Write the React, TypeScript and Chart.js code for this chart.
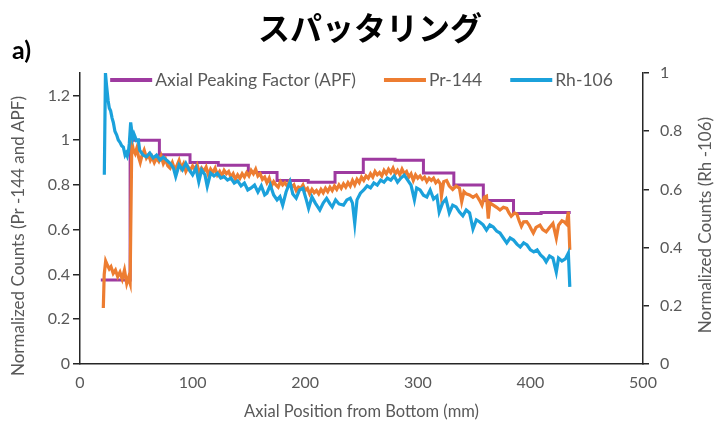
import React, { useEffect, useRef } from "react";
import { Chart, registerables } from "chart.js";

Chart.register(...registerables);

// ---------- text ----------
const TITLE = "スパッタリング";
const PANEL = "a)";
const X_TITLE = "Axial Position from Bottom (mm)";
const Y_LEFT_TITLE = "Normalized Counts (Pr -144 and APF)";
const Y_RIGHT_TITLE = "Normalized Counts (Rh -106)";
const SERIES_NAMES = ["Axial Peaking Factor (APF)", "Pr-144", "Rh-106"];

// ---------- data ----------
// Axial Peaking Factor (step: value holds from x until next x)
const apfX = [18.5, 44.5, 70.5, 97.7, 122.8, 149.5, 175, 202.7, 226.5, 251.6, 279.8, 305, 332, 358.2, 385, 409.5, 435.8];
const apfY = [0.375, 1.0, 0.935, 0.9, 0.888, 0.855, 0.82, 0.812, 0.855, 0.915, 0.91, 0.853, 0.8, 0.73, 0.672, 0.677, 0.677];

// Pr-144 (left axis)
const prX = [
  20.7, 21.5, 22.8, 24.5, 26, 27.5, 29.5, 31.5, 33.5, 35.5,
  37.5, 39.5, 41.5, 43, 44.5, 46, 47.5, 49, 50.5, 52,
  53.5, 55, 57, 59, 61, 62.5, 64, 66, 68, 70,
  72, 74, 76, 78, 80, 82, 84, 86, 88, 90,
  92, 94, 96, 98, 100, 102, 104, 106, 108, 110,
  112, 114, 116, 118, 120, 122, 124, 126, 128, 130,
  132, 134, 136, 138, 140, 142, 144, 146, 148, 150,
  152, 154, 156, 158, 160, 162, 164, 166, 168, 170,
  172, 174, 176, 178, 180, 182, 184, 186, 188, 190,
  192, 194, 196, 198, 200, 202, 204, 206, 208, 210,
  212, 214, 216, 218, 220, 222, 224, 226, 228, 230,
  232, 234, 236, 238, 240, 242, 244, 246, 248, 250,
  252, 254, 256, 258, 260, 262, 264, 266, 268, 270,
  272, 274, 276, 278, 280, 282, 284, 286, 288, 290,
  292, 294, 296, 298, 300, 302, 304, 306, 308, 310,
  312, 314, 316, 318, 320,
  321, 323, 325.6, 328, 331, 334, 337, 339, 341, 343,
  346, 349, 352, 355, 357, 359, 361, 362.6, 364, 367,
  370, 373, 376, 379, 381, 383, 386, 388, 390, 392,
  394, 396.7, 399, 401, 402.6, 405, 408.5, 411, 414, 417,
  420, 423, 425, 428, 430, 432, 433.7, 435,
];
const prY = [
  0.25, 0.4, 0.46, 0.44, 0.425, 0.435, 0.405, 0.42, 0.39, 0.41,
  0.38, 0.42, 0.36, 0.385, 0.36, 0.99, 0.955, 0.94, 0.965, 0.925,
  0.9, 0.93, 0.955, 0.92, 0.935, 0.91, 0.925, 0.9, 0.92, 0.905,
  0.93, 0.895, 0.915, 0.885, 0.875, 0.9, 0.87, 0.885, 0.91, 0.875,
  0.895, 0.86, 0.88, 0.865, 0.885, 0.87, 0.89, 0.855, 0.875, 0.86,
  0.88, 0.845, 0.87, 0.855, 0.875, 0.845, 0.86, 0.84, 0.865, 0.85,
  0.86, 0.835, 0.85, 0.825, 0.845, 0.83, 0.85, 0.835, 0.855, 0.84,
  0.865, 0.85, 0.87, 0.84, 0.85, 0.825, 0.835, 0.81, 0.83, 0.795,
  0.815, 0.8, 0.79, 0.815, 0.8, 0.81, 0.795, 0.815, 0.79, 0.8,
  0.775, 0.79, 0.785, 0.8, 0.775, 0.785, 0.76, 0.78, 0.765, 0.775,
  0.76, 0.78, 0.765, 0.785, 0.77, 0.79, 0.775, 0.795, 0.78, 0.8,
  0.785, 0.805, 0.79, 0.81, 0.795, 0.82, 0.8, 0.825, 0.81, 0.835,
  0.82, 0.84, 0.83, 0.85, 0.835, 0.86, 0.845, 0.855, 0.84, 0.865,
  0.85, 0.87, 0.855, 0.875, 0.85, 0.865, 0.845, 0.87, 0.85, 0.86,
  0.835, 0.85, 0.82, 0.845, 0.83, 0.84, 0.825, 0.835, 0.815, 0.83,
  0.82, 0.83, 0.81, 0.82, 0.805,
  0.75, 0.815, 0.82, 0.795, 0.78, 0.795, 0.785, 0.725, 0.77, 0.76,
  0.755, 0.745, 0.755, 0.73, 0.71, 0.745, 0.75, 0.65, 0.72, 0.71,
  0.7, 0.688, 0.7, 0.695, 0.675, 0.66, 0.675, 0.67, 0.64, 0.615,
  0.635, 0.636, 0.62, 0.6, 0.585, 0.61, 0.62, 0.6, 0.59, 0.61,
  0.628, 0.562, 0.62, 0.64, 0.635, 0.625, 0.68, 0.51,
];

// Rh-106 (right axis)
const rhX = [
  21.6, 22.6, 23.5, 25, 26, 27.2, 28.5, 29.6, 31, 32.6,
  34, 35.5, 37, 38.5, 40, 41, 42, 43, 43.8, 45,
  46, 46.8, 48, 49, 50, 51.8, 53, 56, 59, 62,
  65, 68, 71, 74, 77, 80, 83, 85, 88, 91,
  94, 97, 100, 103, 105.5, 108, 111, 113, 116, 119,
  122, 125, 128, 131, 134, 137, 140, 143, 146, 149,
  152, 155, 158, 161, 164, 166, 169, 172, 175, 177.6,
  180, 183, 186.5, 189, 192, 195, 198, 201, 203, 206,
  209, 213, 216, 219, 222, 224, 227, 230, 234, 237,
  240, 242, 244, 246, 249, 252, 255, 258, 261, 264,
  267, 270, 273, 276, 279, 282, 285, 288, 291, 294,
  297, 299, 302, 305, 308, 311, 314, 317, 319, 322,
  325, 328, 331, 334, 337, 340, 343, 346, 349, 352,
  355, 358, 361, 364, 367, 370, 373, 376, 379, 382,
  385, 388, 391, 394, 397, 400, 403, 406, 409, 412,
  414, 417, 420, 423, 425, 428, 431, 433.7, 435,
];
const rhY = [
  0.65, 1.0, 0.96, 0.905, 0.88, 0.87, 0.845, 0.83, 0.8, 0.787,
  0.77, 0.762, 0.75, 0.745, 0.718, 0.725, 0.715, 0.73, 0.758, 0.83,
  0.8, 0.775, 0.79, 0.78, 0.768, 0.77, 0.735, 0.718, 0.712, 0.725,
  0.708, 0.718, 0.701, 0.711, 0.7, 0.69, 0.673, 0.644, 0.684, 0.667,
  0.69, 0.667, 0.65, 0.673, 0.626, 0.667, 0.65, 0.61, 0.656, 0.646,
  0.655, 0.639, 0.644, 0.632, 0.639, 0.622, 0.629, 0.612, 0.622, 0.598,
  0.605, 0.615, 0.591, 0.612, 0.581, 0.587, 0.615, 0.581, 0.564, 0.575,
  0.546, 0.591, 0.626, 0.584, 0.57, 0.598, 0.604, 0.564, 0.535, 0.574,
  0.553, 0.529, 0.553, 0.569, 0.55, 0.54, 0.564, 0.55, 0.546, 0.564,
  0.57, 0.553, 0.483, 0.564, 0.587, 0.598, 0.612, 0.605, 0.622, 0.615,
  0.632, 0.625, 0.639, 0.632, 0.646, 0.625, 0.639, 0.649, 0.632, 0.615,
  0.564, 0.605, 0.598, 0.58, 0.574, 0.598, 0.567, 0.577, 0.522, 0.553,
  0.567, 0.519, 0.546, 0.54, 0.522, 0.509, 0.529, 0.519, 0.464, 0.495,
  0.488, 0.478, 0.46, 0.478, 0.471, 0.457, 0.45, 0.433, 0.416, 0.433,
  0.426, 0.412, 0.402, 0.416, 0.409, 0.392, 0.385, 0.392, 0.375, 0.364,
  0.351, 0.371, 0.364, 0.316, 0.364, 0.354, 0.361, 0.381, 0.265,
];

// axis ticks
const X_MIN = 0, X_MAX = 500, X_STEP = 100;
const YL_MIN = 0, YL_MAX = 1.3, YL_STEP = 0.2;
const YR_MIN = 0, YR_MAX = 1, YR_STEP = 0.2;

// ---------- style ----------
const FONT = "Lato, 'Open Sans', sans-serif";
const GRAY = "#595959";
const AXIS = "#262626";
const COLORS = ["#9E3AA0", "#ED7D31", "#1BA1DB"];

const toPoints = (xs: number[], ys: number[]) => xs.map((x, i) => ({ x, y: ys[i] }));

const overlayPlugin = {
  id: "overlayText",
  afterDraw(chart: any) {
    const ctx = chart.ctx as CanvasRenderingContext2D;
    const ca = chart.chartArea;
    ctx.save();
    // main title
    ctx.fillStyle = "#000";
    ctx.textBaseline = "middle";
    ctx.textAlign = "center";
    ctx.font = "bold 32px 'Noto Sans CJK JP'";
    ctx.fillText(TITLE, 370, 28);
    // panel label
    ctx.textAlign = "left";
    ctx.font = "bold 25px Lato";
    ctx.fillText(PANEL, 12, 51);
    // axis titles
    ctx.fillStyle = GRAY;
    ctx.font = `16.5px ${FONT}`;
    ctx.textAlign = "center";
    ctx.fillText(X_TITLE, (ca.left + ca.right) / 2, 412);
    ctx.font = `17px ${FONT}`;
    ctx.save();
    ctx.translate(19, 236);
    ctx.rotate(-Math.PI / 2);
    ctx.fillText(Y_LEFT_TITLE, 0, 0);
    ctx.restore();
    ctx.save();
    ctx.translate(706, 225);
    ctx.rotate(-Math.PI / 2);
    ctx.fillText(Y_RIGHT_TITLE, 0, 0);
    ctx.restore();
    // legend (inside plot area, centered)
    const lineW = 42, gapText = 3, gapItem = 28, ly = 80;
    ctx.font = `17.5px ${FONT}`;
    const ds = chart.data.datasets;
    const widths = ds.map((d: any) => ctx.measureText(d.label).width);
    const total = widths.reduce((a: number, b: number) => a + b, 0) + ds.length * (lineW + gapText) + (ds.length - 1) * gapItem;
    let x = (ca.left + ca.right) / 2 - total / 2;
    ctx.textAlign = "left";
    ds.forEach((d: any, i: number) => {
      ctx.fillStyle = d.borderColor;
      ctx.fillRect(x, ly - 2, lineW, 4);
      x += lineW + gapText;
      ctx.fillStyle = GRAY;
      ctx.fillText(d.label, x, ly);
      x += widths[i] + gapItem;
    });
    ctx.restore();
  },
};

export default function App() {
  const ref = useRef<HTMLCanvasElement | null>(null);
  useEffect(() => {
    if (!ref.current) return;
    const tickFont = { family: FONT, size: 16 };
    const fmt = (v: any) => String(Math.round(Number(v) * 10) / 10);
    const chart = new Chart(ref.current, {
      type: "line",
      data: {
        datasets: [
          {
            label: SERIES_NAMES[0],
            data: toPoints(apfX, apfY),
            borderColor: COLORS[0],
            backgroundColor: COLORS[0],
            borderWidth: 3,
            pointRadius: 0,
            stepped: "before",
            yAxisID: "y",
            order: 2,
          },
          {
            label: SERIES_NAMES[1],
            data: toPoints(prX, prY),
            borderColor: COLORS[1],
            backgroundColor: COLORS[1],
            borderWidth: 3.2,
            pointRadius: 0,
            yAxisID: "y",
            order: 1,
          },
          {
            label: SERIES_NAMES[2],
            data: toPoints(rhX, rhY),
            borderColor: COLORS[2],
            backgroundColor: COLORS[2],
            borderWidth: 3.2,
            pointRadius: 0,
            yAxisID: "y1",
            order: 0,
          },
        ],
      } as any,
      options: {
        responsive: false,
        animation: false,
        layout: { padding: { top: 73, left: 0, right: 0, bottom: 0 } },
        plugins: {
          legend: { display: false },
          title: { display: false },
          tooltip: { enabled: false },
        },
        scales: {
          x: {
            type: "linear",
            min: X_MIN,
            max: X_MAX,
            ticks: { stepSize: X_STEP, color: GRAY, font: tickFont, padding: 9, maxRotation: 0 },
            grid: { display: false, drawTicks: false },
            border: { display: true, color: AXIS, width: 1.5 },
            afterFit: (s: any) => { s.height = 65; },
          },
          y: {
            position: "left",
            min: YL_MIN,
            max: YL_MAX,
            ticks: { stepSize: YL_STEP, includeBounds: false, color: GRAY, font: tickFont, padding: 3, callback: fmt },
            grid: { drawOnChartArea: false, drawTicks: true, tickLength: 7, color: AXIS, lineWidth: 1.5 },
            border: { display: true, color: AXIS, width: 1.5 },
            afterFit: (s: any) => { s.width = 80; },
          },
          y1: {
            position: "right",
            min: YR_MIN,
            max: YR_MAX,
            ticks: { stepSize: YR_STEP, color: GRAY, font: tickFont, padding: 11, callback: fmt },
            grid: { drawOnChartArea: false, drawTicks: true, tickLength: 6, color: AXIS, lineWidth: 1.5 },
            border: { display: true, color: AXIS, width: 1.5 },
            afterFit: (s: any) => { s.width = 75; },
          },
        },
      } as any,
      plugins: [overlayPlugin],
    });
    return () => chart.destroy();
  }, []);
  return (
    <div style={{ position: "fixed", left: 0, top: 0, width: 718, height: 429, background: "#fff" }}>
      <canvas ref={ref} width={718} height={429} style={{ width: 718, height: 429, display: "block" }} />
    </div>
  );
}
